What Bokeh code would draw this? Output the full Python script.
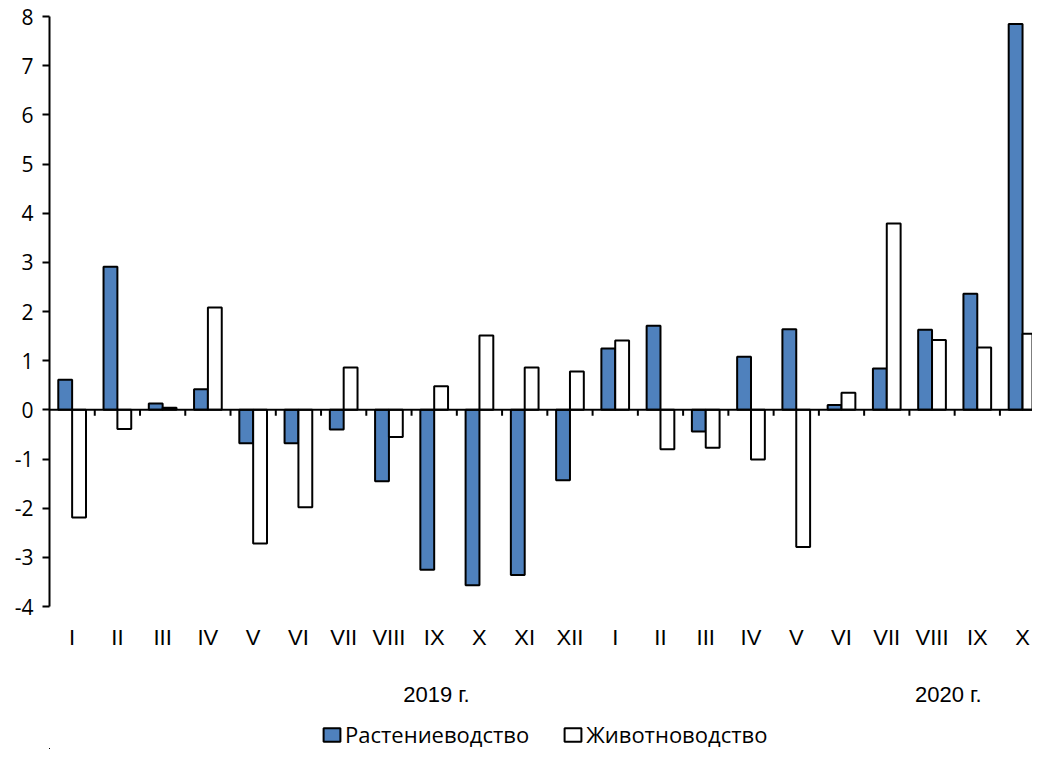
import numpy as np
from bokeh.plotting import figure
from bokeh.layouts import column
from bokeh.models import (Range1d, FixedTicker, LinearAxis, Span, Legend, LegendItem,
                          ColumnDataSource)
from bokeh.embed import file_html
from bokeh.resources import INLINE

months = ["I", "II", "III", "IV", "V", "VI", "VII", "VIII", "IX", "X", "XI", "XII",
          "I", "II", "III", "IV", "V", "VI", "VII", "VIII", "IX", "X"]
crops = [0.61, 2.91, 0.13, 0.42, -0.68, -0.68, -0.40, -1.45, -3.25, -3.57, -3.36, -1.43,
         1.25, 1.71, -0.44, 1.08, 1.64, 0.10, 0.84, 1.63, 2.36, 7.85]
livestock = [-2.19, -0.39, 0.04, 2.08, -2.72, -1.98, 0.86, -0.55, 0.48, 1.51, 0.86, 0.78,
             1.41, -0.80, -0.77, -1.01, -2.79, 0.35, 3.79, 1.42, 1.27, 1.55]
series_names = ["Растениеводство", "Животноводство"]
year_labels = ["2019 г.", "2020 г."]
y_ticks = [-4, -3, -2, -1, 0, 1, 2, 3, 4, 5, 6, 7, 8]

# layout constants
year_pos = [8.55, 19.86]
bw = 0.306
blue = "#4F81BD"

n = len(months)
centers = np.arange(n) + 0.5
src = ColumnDataSource(dict(xb=centers - bw / 2, xw=centers + bw / 2,
                            crops=crops, livestock=livestock))

p = figure(frame_width=983, frame_height=590, output_backend="svg", toolbar_location=None,
           x_range=Range1d(0, 21.72), y_range=Range1d(-4, 8),
           min_border_left=49, min_border_top=16, min_border_right=0,
           min_border_bottom=98)
p.outline_line_color = None
p.grid.visible = False
p.background_fill_color = "white"

p.vbar(x="xb", top="crops", bottom=0, width=bw, source=src,
       fill_color=blue, line_color="black", line_width=2)
p.vbar(x="xw", top="livestock", bottom=0, width=bw, source=src,
       fill_color="white", line_color="black", line_width=2)

# zero line with boundary ticks
p.add_layout(Span(location=0, dimension="width", line_color="black", line_width=2))
bounds = np.arange(1, n)
p.segment(x0=bounds, x1=bounds, y0=np.zeros(len(bounds)), y1=np.full(len(bounds), -0.12),
          line_color="black", line_width=2)

# y axis
ya = p.yaxis[0]
ya.ticker = FixedTicker(ticks=y_ticks)
ya.major_label_overrides = {t: str(t) for t in y_ticks}
ya.axis_line_width = 2
ya.major_tick_line_width = 2
ya.major_tick_out = 7
ya.major_tick_in = 0
ya.minor_tick_line_color = None
ya.major_label_standoff = 9
ya.major_label_text_font = "Open Sans"
ya.major_label_text_font_size = "21px"
ya.major_label_text_color = "black"

# x axis: month labels
xa = p.xaxis[0]
xa.ticker = FixedTicker(ticks=list(centers))
xa.major_label_overrides = {float(c): m for c, m in zip(centers, months)}
xa.axis_line_color = None
xa.major_tick_line_color = None
xa.minor_tick_line_color = None
xa.major_label_standoff = 12
xa.major_label_text_font = "Liberation Sans"
xa.major_label_text_font_size = "22px"
xa.major_label_text_color = "black"

# second axis: years
ya2 = LinearAxis(ticker=FixedTicker(ticks=year_pos),
                 major_label_overrides={year_pos[0]: year_labels[0], year_pos[1]: year_labels[1]})
ya2.axis_line_color = None
ya2.major_tick_line_color = None
ya2.minor_tick_line_color = None
ya2.major_label_standoff = 23
ya2.major_label_text_font = "Liberation Sans"
ya2.major_label_text_font_size = "22px"
ya2.major_label_text_color = "black"
p.add_layout(ya2, "below")

# legend strip (same data, view range placed away from the bars)
lg = figure(width=1032, height=40, output_backend="svg", toolbar_location=None,
            x_range=Range1d(1000, 1001), y_range=Range1d(1000, 1001),
            min_border=0)
lg.axis.visible = False
lg.grid.visible = False
lg.outline_line_color = None
e1 = lg.vbar(x="xb", top="crops", bottom=0, width=bw, source=src,
             fill_color=blue, line_color="black", line_width=2)
e2 = lg.vbar(x="xw", top="livestock", bottom=0, width=bw, source=src,
             fill_color="white", line_color="black", line_width=2)

legend = Legend(items=[LegendItem(label=series_names[0], renderers=[e1]),
                       LegendItem(label=series_names[1], renderers=[e2])],
                orientation="horizontal", location=(272, 0))
legend.border_line_color = None
legend.background_fill_alpha = 0
legend.label_text_font = "Open Sans"
legend.label_text_font_size = "22px"
legend.label_text_color = "black"
legend.glyph_width = 21
legend.glyph_height = 17
legend.label_standoff = 3
legend.spacing = 33
legend.padding = 0
legend.margin = 0
lg.add_layout(legend, "center")

layout = column(p, lg, spacing=0)
open("out.html", "w").write(file_html(layout, INLINE))
